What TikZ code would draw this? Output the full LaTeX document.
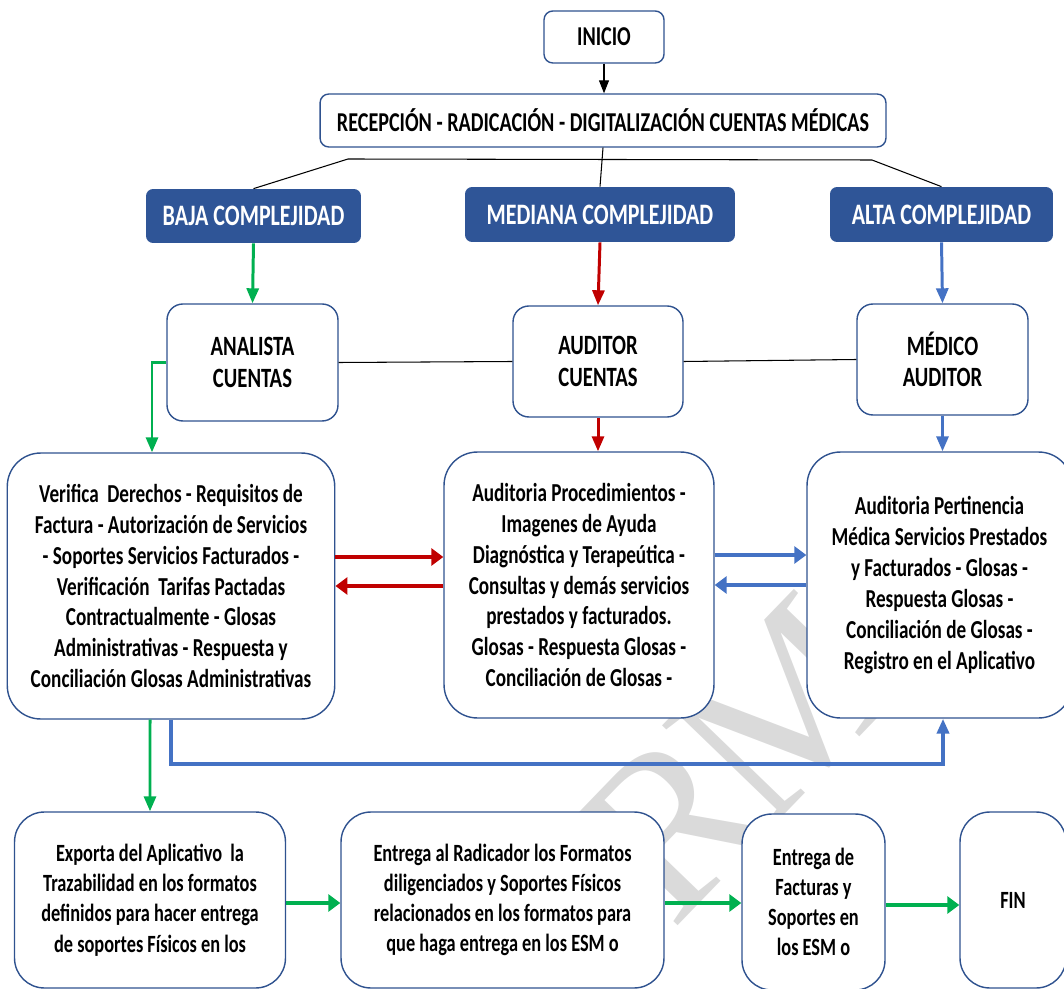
\documentclass[tikz,border=0pt]{standalone}
\usepackage{fontspec}
\setmainfont{Carlito}[FakeStretch=0.74]
\newfontfamily\marcafont{Liberation Serif}
\usetikzlibrary{arrows.meta}
\definecolor{flowblue}{RGB}{47,85,151}
\definecolor{flowline}{RGB}{47,82,143}
\definecolor{flowgreen}{RGB}{0,176,80}
\definecolor{flowred}{RGB}{192,0,0}
\definecolor{flowsky}{RGB}{68,114,196}
\definecolor{marcagray}{RGB}{218,218,218}

\tikzset{
  cajatxt/.style={font=\fontsize{14.75}{17.6}\selectfont\bfseries, align=center, inner sep=0pt},
  caja/.style={cajatxt, draw=flowline, line width=0.8pt, fill=white},
  nivel/.style={cajatxt, fill=flowblue, text=white, rounded corners=4pt,
                font=\fontsize{16.9}{18}\selectfont\bfseries},
  titular/.style={font=\fontsize{15.5}{17.6}\selectfont\bfseries},
  cargo/.style={font=\fontsize{15.9}{18}\selectfont\bfseries},
  entrega/.style={font=\fontsize{14.1}{17.2}\selectfont\bfseries},
  marca/.style={marcagray, rotate=46, inner sep=0pt, font=\marcafont\fontsize{130}{130}\selectfont},
  vflecha/.style={line width=1.7pt, -{Triangle[length=0.3cm,width=0.24cm]}},
  hflecha/.style={line width=2.6pt, -{Triangle[length=0.24cm,width=0.34cm]}}
}

\begin{document}
\begin{tikzpicture}[x=0.02cm,y=-0.02cm]
\clip (0,0) rectangle (1064,989);
% marca de agua
\node[marca] (marcaR) at (672,825) {R};
\node[marca] (marcaM) at (782,710) {M};
% inicio y recepcion
\node[caja, titular, rounded corners=5pt, minimum width=2.4cm, minimum height=1.04cm] (inicio) at (604,37) {INICIO};
\node[caja, titular, rounded corners=5pt, minimum width=11.32cm, minimum height=1.06cm] (recep) at (603,120.5)
  {RECEPCIÓN - RADICACIÓN - DIGITALIZACIÓN CUENTAS MÉDICAS};
% niveles de complejidad
\node[nivel, minimum width=4.3cm, minimum height=1.08cm] (baja) at (253.5,216) {BAJA COMPLEJIDAD};
\node[nivel, minimum width=5.4cm, minimum height=1.1cm] (mediana) at (600,214.5) {MEDIANA COMPLEJIDAD};
\node[nivel, minimum width=4.46cm, minimum height=1.1cm] (alta) at (941.5,214.5) {ALTA COMPLEJIDAD};
% responsables
\node[caja, cargo, rounded corners=9pt, minimum width=3.42cm, minimum height=2.34cm] (analista) at (252.5,362.5) {ANALISTA\\CUENTAS};
\node[caja, cargo, rounded corners=9pt, minimum width=3.4cm, minimum height=2.22cm] (auditor) at (598,361.5) {AUDITOR\\CUENTAS};
\node[caja, cargo, rounded corners=9pt, minimum width=3.42cm, minimum height=2.22cm] (medico) at (942.5,359.5) {MÉDICO\\AUDITOR};
% actividades
\node[caja, rounded corners=19pt, minimum width=6.55cm, minimum height=5.32cm] (verif) at (171,586)
  {Verifica\ \ Derechos - Requisitos de\\Factura - Autorización de Servicios\\- Soportes Servicios Facturados -\\
   Verificación\ \ Tarifas Pactadas\\Contractualmente - Glosas\\Administrativas - Respuesta y\\
   Conciliación Glosas Administrativas};
\node[caja, rounded corners=19pt, minimum width=5.4cm, minimum height=5.32cm] (proced) at (579,585)
  {Auditoria Procedimientos -\\Imagenes de Ayuda\\Diagnóstica y Terapeútica -\\Consultas y demás servicios\\
   prestados y facturados.\\Glosas - Respuesta Glosas -\\Conciliación de Glosas -};
\node[caja, rounded corners=19pt, minimum width=5.3cm, minimum height=5.32cm] (pertin) at (939.5,585)
  {Auditoria Pertinencia\\Médica Servicios Prestados\\y Facturados - Glosas -\\Respuesta Glosas -\\
   Conciliación de Glosas -\\Registro en el Aplicativo};
% entrega
\node[caja, entrega, rounded corners=17pt, minimum width=5.42cm, minimum height=3.52cm] (exporta) at (150,900)
  {Exporta del Aplicativo\ \ la\\Trazabilidad en los formatos\\definidos para hacer entrega\\de soportes Físicos en los};
\node[caja, entrega, rounded corners=17pt, minimum width=6.46cm, minimum height=3.52cm] (radicador) at (502.5,900)
  {Entrega al Radicador los Formatos\\diligenciados y Soportes Físicos\\relacionados en los formatos para\\que haga entrega en los ESM o};
\node[caja, entrega, rounded corners=17pt, minimum width=2.86cm, minimum height=3.52cm] (facturas) at (813.5,902)
  {Entrega de\\Facturas y\\Soportes en\\los ESM o};
\node[caja, entrega, rounded corners=17pt, minimum width=2.12cm, minimum height=3.52cm] (fin) at (1013,900) {FIN};

% conectores
\draw[line width=0.6pt, -{Triangle[length=0.26cm,width=0.2cm]}] (inicio.south) -- (inicio.south |- recep.north);
\coordinate (ramaizq) at (348,159);
\coordinate (ramader) at (872,160);
\draw[line width=0.6pt] (ramaizq) -- (ramader);
\draw[line width=0.6pt] (recep.south) -- (mediana.north);
\draw[line width=0.6pt] (ramaizq) -- (baja.north);
\draw[line width=0.6pt] (ramader) -- (alta.north);
\draw[line width=0.6pt] (analista.east) -- (auditor.west);
\draw[line width=0.6pt] (auditor.east) -- (medico.west);
\draw[vflecha, flowgreen] (baja.south) -- (analista.north);
\draw[vflecha, flowred] (mediana.south) -- (auditor.north);
\draw[vflecha, flowsky] (alta.south) -- (medico.north);
\draw[vflecha, flowgreen] (analista.west) -| ([xshift=-0.38cm]verif.north);
\draw[vflecha, flowred] (auditor.south) -- (auditor.south |- proced.north);
\draw[vflecha, flowsky] (medico.south) -- (medico.south |- pertin.north);
\draw[hflecha, flowred] ([yshift=0.58cm]verif.east) -- ([yshift=0.58cm]verif.east -| proced.west);
\draw[hflecha, flowred] (proced.west |- verif.east) -- (verif.east);
\draw[hflecha, flowsky, line width=2.2pt] ([yshift=0.6cm]proced.east) -- ([yshift=0.6cm]proced.east -| pertin.west);
\draw[hflecha, flowsky, line width=2.2pt] (pertin.west) -- (pertin.west -| proced.east);
\draw[vflecha, flowsky, line width=2.2pt] (verif.south) -- ++(0,44) -| ([xshift=0.07cm]pertin.south);
\draw[vflecha, flowgreen] ([xshift=-0.42cm]verif.south) -- (exporta.north);
\draw[hflecha, flowgreen] ([yshift=-0.06cm]exporta.east) -- ([yshift=-0.06cm]exporta.east -| radicador.west);
\draw[hflecha, flowgreen] ([yshift=-0.06cm]radicador.east) -- ([yshift=-0.06cm]radicador.east -| facturas.west);
\draw[hflecha, flowgreen] ([yshift=-0.06cm]facturas.east) -- ([yshift=-0.06cm]facturas.east -| fin.west);
\end{tikzpicture}
\end{document}
